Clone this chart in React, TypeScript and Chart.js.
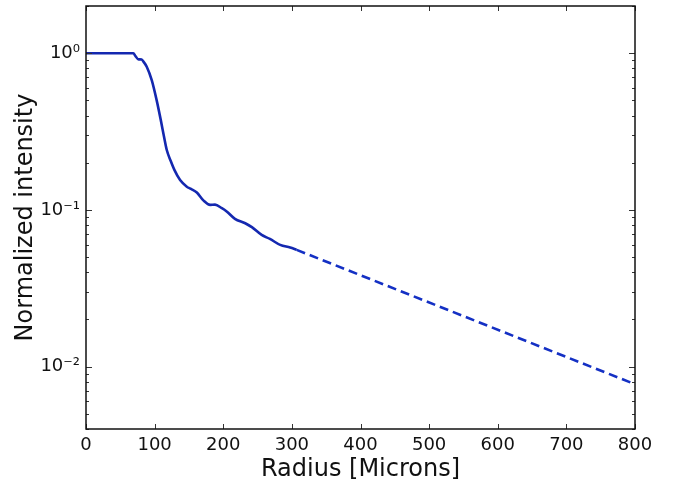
import React, { useEffect, useRef } from "react";
import { Chart, registerables } from "chart.js";

Chart.register(...registerables);

// Solid (measured) profile
const radiusSolid = [0, 69, 72, 76, 81, 84, 88.5, 95.8, 103, 109, 114.2, 117.7, 123.5, 128.8, 137.1, 146.9, 153, 161.5, 171, 181, 188, 198, 205, 217, 232, 241.7, 256, 268, 283, 297.5, 307];
const intensitySolid = [1.0, 1.0, 0.96, 0.915, 0.91, 0.88, 0.82, 0.673, 0.5, 0.374, 0.285, 0.241, 0.205, 0.18, 0.155, 0.1407, 0.136, 0.129, 0.115, 0.1076, 0.108, 0.1025, 0.0977, 0.0877, 0.0822, 0.0776, 0.0692, 0.0653, 0.0598, 0.0575, 0.0556];

// Dashed (extrapolated) profile
const radiusDashed = [307, 800];
const intensityDashed = [0.0556, 0.00772];

// Axis ticks
const xTickValues = [0, 100, 200, 300, 400, 500, 600, 700, 800];
const yTickValues = [0.01, 0.1, 1];
const yTickLabels = ["10\u207B\u00B2", "10\u207B\u00B9", "10\u2070"];

const X_MIN = 0;
const X_MAX = 800;
const Y_MIN = 0.004;
const Y_MAX = 2;

const FONT = "'DejaVu Sans', sans-serif";

const framePlugin = {
  id: "frameTicks",
  afterDatasetsDraw(chart: any) {
    const { ctx, chartArea: a, scales } = chart;
    const xs = scales.x;
    const ys = scales.y;
    ctx.save();
    ctx.strokeStyle = "#333";
    ctx.lineWidth = 1;
    ctx.beginPath();
    for (const v of xTickValues) {
      const px = Math.round(xs.getPixelForValue(v)) + 0.5;
      ctx.moveTo(px, a.bottom);
      ctx.lineTo(px, a.bottom - 5);
      ctx.moveTo(px, a.top);
      ctx.lineTo(px, a.top + 5);
    }
    for (let d = -3; d <= 0; d++) {
      for (let k = 1; k <= 9; k++) {
        const v = k * Math.pow(10, d);
        if (v < Y_MIN || v > Y_MAX) continue;
        const py = Math.round(ys.getPixelForValue(v)) + 0.5;
        const len = k === 1 ? 6 : 3;
        ctx.moveTo(a.left, py);
        ctx.lineTo(a.left + len, py);
        ctx.moveTo(a.right, py);
        ctx.lineTo(a.right - len, py);
      }
    }
    ctx.stroke();
    ctx.strokeStyle = "#111";
    ctx.lineWidth = 1.5;
    ctx.strokeRect(a.left, a.top, a.right - a.left, a.bottom - a.top);
    ctx.restore();
  },
};

export default function App() {
  const canvasRef = useRef<HTMLCanvasElement | null>(null);

  useEffect(() => {
    const canvas = canvasRef.current;
    if (!canvas) return;
    const chart = new Chart(canvas, {
      type: "line",
      data: {
        datasets: [
          {
            data: radiusSolid.map((r, i) => ({ x: r, y: intensitySolid[i] })),
            borderColor: "#1428b0",
            borderWidth: 2.6,
            pointRadius: 0,
            cubicInterpolationMode: "monotone",
            fill: false,
          },
          {
            data: radiusDashed.map((r, i) => ({ x: r, y: intensityDashed[i] })),
            borderColor: "#1430c4",
            borderWidth: 2.6,
            borderDash: [9, 5],
            pointRadius: 0,
            fill: false,
          },
        ],
      },
      options: {
        animation: false,
        responsive: false,
        devicePixelRatio: 1,
        layout: { padding: { top: 6, right: 42, left: 0, bottom: 0 } },
        plugins: {
          legend: { display: false },
          tooltip: { enabled: false },
        },
        scales: {
          x: {
            type: "linear",
            min: X_MIN,
            max: X_MAX,
            afterBuildTicks: (scale: any) => {
              scale.ticks = xTickValues.map((v) => ({ value: v }));
            },
            afterFit: (scale: any) => {
              scale.height = 56;
              scale.paddingLeft = 0;
              scale.paddingRight = 0;
            },
            grid: { display: false, drawTicks: false },
            border: { display: false },
            ticks: {
              color: "#111",
              padding: 6,
              maxRotation: 0,
              autoSkip: false,
              font: { family: FONT, size: 18 },
            },
            title: {
              display: true,
              text: "Radius [Microns]",
              color: "#111",
              font: { family: FONT, size: 24 },
              padding: { top: 0, bottom: 1 },
            },
          },
          y: {
            type: "logarithmic",
            min: Y_MIN,
            max: Y_MAX,
            afterBuildTicks: (scale: any) => {
              scale.ticks = yTickValues.map((v) => ({ value: v }));
            },
            afterFit: (scale: any) => {
              scale.width = 86;
              scale.paddingTop = 0;
              scale.paddingBottom = 0;
            },
            grid: { display: false, drawTicks: false },
            border: { display: false },
            ticks: {
              color: "#111",
              padding: 6,
              autoSkip: false,
              font: { family: FONT, size: 18 },
              callback: (value: any) => {
                const i = yTickValues.findIndex((v) => Math.abs(v - Number(value)) < 1e-9);
                return i >= 0 ? yTickLabels[i] : "";
              },
            },
            title: {
              display: true,
              text: "Normalized intensity",
              color: "#111",
              font: { family: FONT, size: 24 },
              padding: { top: 11, bottom: 0 },
            },
          },
        },
      },
      plugins: [framePlugin],
    } as any);
    return () => chart.destroy();
  }, []);

  return (
    <div style={{ position: "absolute", left: 0, top: 0, width: 677, height: 485, background: "#fff" }}>
      <canvas ref={canvasRef} width={677} height={485} style={{ display: "block", width: 677, height: 485 }} />
    </div>
  );
}
